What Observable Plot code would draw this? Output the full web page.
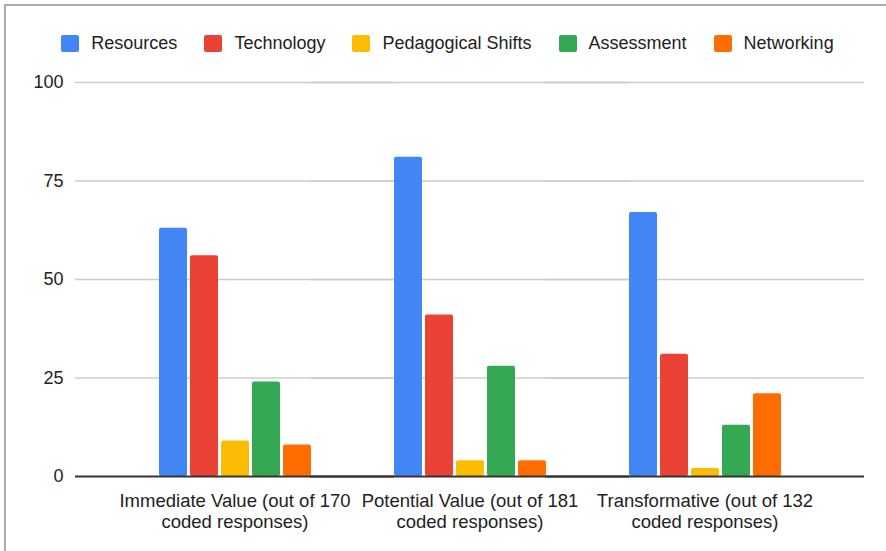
<!DOCTYPE html>
<html>
<head>
<meta charset="utf-8">
<script src="https://cdn.jsdelivr.net/npm/d3@7"></script>
<script src="https://cdn.jsdelivr.net/npm/@observablehq/plot@0.6"></script>
<style>
  html, body { margin: 0; padding: 0; background: #fff; }
  #wrap { position: relative; width: 886px; height: 551px; overflow: hidden; font-family: Arial, "Liberation Sans", sans-serif; color: #222; }
  #frameline { position: absolute; left: 4px; top: 4px; width: 900px; height: 600px; border-left: 2px solid #ababab; border-top: 2px solid #ababab; pointer-events: none; }
  #legend { height: 38px; padding-top: 24px; display: flex; justify-content: center; align-items: center; font-size: 18px; padding-left: 9px; }
  .item { display: flex; align-items: center; margin: 0 13.5px; }
  .sw { width: 18px; height: 17px; border-radius: 2px; margin-right: 12px; }
  #chart svg { display: block; }
</style>
</head>
<body>
<div id="wrap">
  <div id="frameline"></div>
  <div id="legend"></div>
  <div id="chart"></div>
</div>
<script>
const groups = [
  "Immediate Value (out of 170\ncoded responses)",
  "Potential Value (out of 181\ncoded responses)",
  "Transformative (out of 132\ncoded responses)"
];
const series = ["Resources", "Technology", "Pedagogical Shifts", "Assessment", "Networking"];
const colors = ["#4285F4", "#EA4335", "#FBBC04", "#34A853", "#FF6D01"];
const resources = [63, 81, 67];
const technology = [56, 41, 31];
const pedagogicalShifts = [9, 4, 2];
const assessment = [24, 28, 13];
const networking = [8, 4, 21];
const yTicks = [0, 25, 50, 75, 100];

const valuesBySeries = [resources, technology, pedagogicalShifts, assessment, networking];
const data = [];
groups.forEach((g, gi) => {
  series.forEach((s, si) => {
    data.push({group: g, series: s, value: valuesBySeries[si][gi]});
  });
});

// legend
const legend = document.getElementById("legend");
series.forEach((s, i) => {
  const it = document.createElement("div");
  it.className = "item";
  const sw = document.createElement("div");
  sw.className = "sw";
  sw.style.background = colors[i];
  const tx = document.createElement("span");
  tx.textContent = s;
  it.appendChild(sw);
  it.appendChild(tx);
  legend.appendChild(it);
});

const outer = 42; // facet outer padding in px, to stretch rules across the frame
const chart = Plot.plot({
  width: 886,
  height: 489,
  marginLeft: 73,
  marginRight: 21,
  marginTop: 20,
  marginBottom: 75,
  style: {fontFamily: "Arial, 'Liberation Sans', sans-serif", fontSize: "18px", color: "#222", background: "transparent"},
  fx: {domain: groups, paddingInner: 0, paddingOuter: 0.178},
  x: {domain: series, paddingInner: 0.1, paddingOuter: 1.33, axis: null},
  y: {domain: [0, 100]},
  color: {domain: series, range: colors},
  marks: [
    Plot.ruleY(yTicks.filter(d => d > 0), {stroke: "#cccccc", strokeWidth: 1.5, insetLeft: -outer, insetRight: -outer}),
    Plot.barY(data, {fx: "group", x: "series", y: "value", fill: "series", rx: 2}),
    Plot.ruleY([0], {stroke: "#333333", strokeWidth: 2, insetLeft: -outer, insetRight: -outer}),
    Plot.axisY({ticks: yTicks, tickSize: 0, tickPadding: 12 + outer, label: null, fill: "#222"}),
    Plot.axisFx({anchor: "bottom", tickSize: 0, tickPadding: 16, label: null, lineHeight: 1.12, fontSize: 18.5, fill: "#222"})
  ]
});
document.getElementById("chart").appendChild(chart);
</script>
</body>
</html>
